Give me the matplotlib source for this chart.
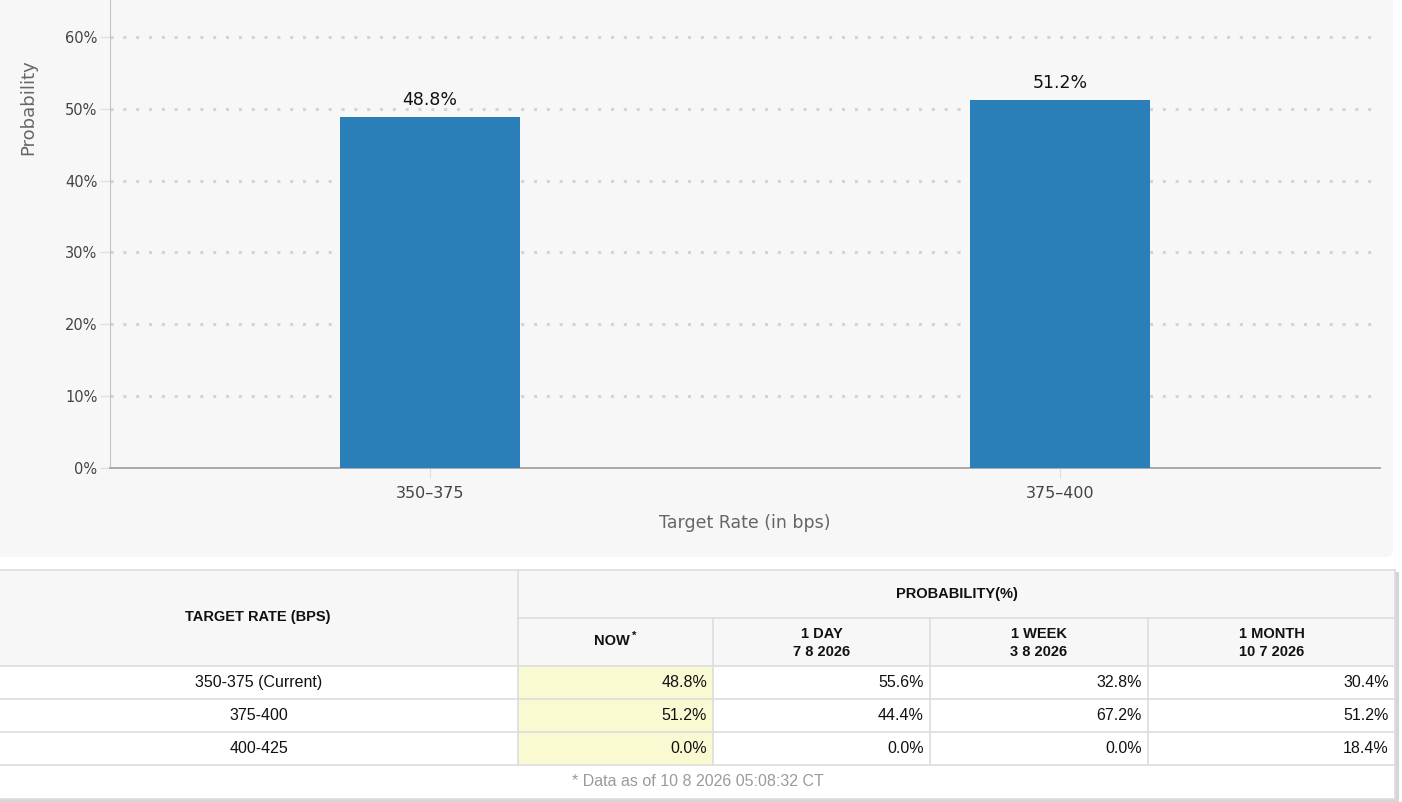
import matplotlib.pyplot as plt
from matplotlib.patches import Rectangle, FancyBboxPatch

# chart data
chart_rates = ["350–375", "375–400"]
chart_probs = [48.8, 51.2]

# table data
table_rates = ["350-375 (Current)", "375-400", "400-425"]
prob_now = [48.8, 51.2, 0.0]
prob_day = [55.6, 44.4, 0.0]
prob_week = [32.8, 67.2, 0.0]
prob_month = [30.4, 51.2, 18.4]
col_heads = ["1 DAY\n7 8 2026", "1 WEEK\n3 8 2026", "1 MONTH\n10 7 2026"]
footnote = "* Data as of 10 8 2026 05:08:32 CT"

W, H = 1402, 802
fig = plt.figure(figsize=(W / 100, H / 100), dpi=100)
fig.patch.set_facecolor("white")

# pixel-space background axes for panel + table
bg = fig.add_axes([0, 0, 1, 1], zorder=0)
bg.set_xlim(0, W)
bg.set_ylim(H, 0)
bg.axis("off")

bg.add_patch(FancyBboxPatch((-10, -10), 1403, 567, boxstyle="round,pad=0,rounding_size=6",
                            facecolor="#f7f7f7", edgecolor="none"))

# ---- bar chart ----
ax = fig.add_axes([110 / W, (H - 468) / H, 1270 / W, 468 / H], zorder=2)
ax.set_facecolor("none")
x = range(len(chart_rates))
bars = ax.bar(x, chart_probs, width=0.286, color="#2a7fb8", zorder=3)
for b, v in zip(bars, chart_probs):
    ax.annotate(f"{v}%", (b.get_x() + b.get_width() / 2, v), xytext=(0, 6),
                textcoords="offset points", ha="center", va="bottom",
                fontsize=12.5, color="#111111")

ax.set_xlim(-0.508, 1.508)
ax.set_ylim(0, 65.15)
ax.set_yticks(range(0, 61, 10))
ax.set_yticklabels([f"{t}%" for t in range(0, 61, 10)])
ax.set_xticks(list(x))
ax.set_xticklabels(chart_rates)
ax.yaxis.grid(True, color="#d4d4d4", linestyle=(0, (1, 3.2)), linewidth=2.2)
ax.set_axisbelow(True)
for s in ["top", "right"]:
    ax.spines[s].set_visible(False)
ax.spines["left"].set_color("#c4c4c4")
ax.spines["bottom"].set_color("#aaaaaa")
ax.spines["bottom"].set_linewidth(1.4)
ax.tick_params(axis="y", length=7, color="#dddddd", labelsize=10.5, labelcolor="#444444", pad=2)
ax.tick_params(axis="x", length=7, color="#dddddd", labelsize=11.5, labelcolor="#444444", pad=6)
ax.set_ylabel("Probability", fontsize=13, color="#666666")
ax.set_xlabel("Target Rate (in bps)", fontsize=12.5, color="#666666", labelpad=9)
ax.yaxis.set_label_coords(-73 / 1270, 361 / 468)

# ---- table ----
col_x = [0, 518, 713, 930, 1148, 1395]
row_y = [570, 618, 666, 699, 732, 765, 799]
line_c = "#dddddd"
head_bg = "#f7f7f7"
now_bg = "#fafad2"

# shadow
bg.add_patch(Rectangle((-5, row_y[0] + 2), col_x[-1] + 9, row_y[-1] - row_y[0] + 1,
                       facecolor="#d6d6d6", edgecolor="none", zorder=1))
bg.add_patch(Rectangle((-5, row_y[0]), col_x[-1] + 5, row_y[-1] - row_y[0],
                       facecolor="white", edgecolor="none", zorder=1.5))
# header background
bg.add_patch(Rectangle((-5, row_y[0]), col_x[-1] + 5, row_y[2] - row_y[0],
                       facecolor=head_bg, edgecolor="none", zorder=2))
# NOW column highlight
bg.add_patch(Rectangle((col_x[1], row_y[2]), col_x[2] - col_x[1], row_y[5] - row_y[2],
                       facecolor=now_bg, edgecolor="none", zorder=2))

lk = dict(color=line_c, linewidth=1.2, zorder=3)
# horizontal lines
bg.plot([-5, col_x[-1]], [row_y[0], row_y[0]], **lk)
bg.plot([col_x[1], col_x[-1]], [row_y[1], row_y[1]], **lk)
for yy in row_y[2:6]:
    bg.plot([-5, col_x[-1]], [yy, yy], **lk)
bg.plot([-5, col_x[-1]], [row_y[-1], row_y[-1]], **lk)
# vertical lines
bg.plot([col_x[1], col_x[1]], [row_y[0], row_y[5]], **lk)
for xx in col_x[2:5]:
    bg.plot([xx, xx], [row_y[1], row_y[5]], **lk)
bg.plot([col_x[-1], col_x[-1]], [row_y[0], row_y[-1]], **lk)

hk = dict(fontsize=10.5, fontweight="bold", family="Liberation Sans", color="#111111",
          ha="center", va="center", zorder=4, linespacing=1.35)
bg.text(col_x[1] / 2 - 1, (row_y[0] + row_y[2]) / 2 - 1, "TARGET RATE (BPS)", **hk)
bg.text((col_x[1] + col_x[-1]) / 2, (row_y[0] + row_y[1]) / 2, "PROBABILITY(%)", **hk)
now_c = (col_x[1] + col_x[2]) / 2
bg.text(now_c - 4, (row_y[1] + row_y[2]) / 2 - 1, "NOW", **hk)
bg.text(now_c + 19, (row_y[1] + row_y[2]) / 2 - 6, "*", **{**hk, "fontsize": 8})
for i, h in enumerate(col_heads):
    bg.text((col_x[i + 2] + col_x[i + 3]) / 2, (row_y[1] + row_y[2]) / 2 + 1, h, **hk)

dk = dict(fontsize=11.5, family="Liberation Sans", color="#111111", va="center", zorder=4)
cols = [prob_now, prob_day, prob_week, prob_month]
for r, rate in enumerate(table_rates):
    yc = (row_y[r + 2] + row_y[r + 3]) / 2
    bg.text(col_x[1] / 2, yc, rate, ha="center", **dk)
    for c, vals in enumerate(cols):
        bg.text(col_x[c + 2] - 6, yc, f"{vals[r]:.1f}%", ha="right", **dk)

bg.text((col_x[0] + col_x[-1]) / 2, (row_y[5] + row_y[6]) / 2, footnote,
        fontsize=11.5, family="Liberation Sans", color="#9a9a9a",
        ha="center", va="center", zorder=4)

fig.savefig("out.png", dpi=100, facecolor="white")
